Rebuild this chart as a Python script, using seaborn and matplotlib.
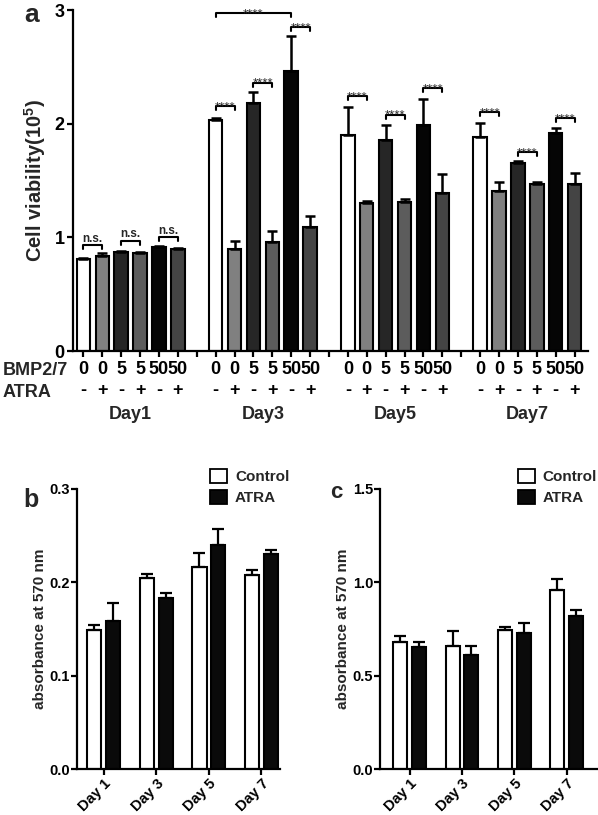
import numpy as np
import pandas as pd
import matplotlib
matplotlib.use("Agg")
import matplotlib.pyplot as plt
import matplotlib.transforms as mtransforms
from matplotlib.patches import Patch
import seaborn as sns

# --- panel a: cell viability (x10^5), 6 conditions per day ---
days_a = ["Day1", "Day3", "Day5", "Day7"]
bmp_doses = ["0", "0", "5", "5", "50", "50"]
atra_signs = ["-", "+", "-", "+", "-", "+"]
cond_names = ["0-", "0+", "5-", "5+", "50-", "50+"]
cond_colors = ["#ffffff", "#808080", "#262626", "#5c5c5c", "#050505", "#444444"]

viab_day1 = [0.81, 0.835, 0.87, 0.86, 0.915, 0.90]
viab_day3 = [2.03, 0.90, 2.18, 0.96, 2.46, 1.09]
viab_day5 = [1.90, 1.30, 1.86, 1.31, 1.99, 1.39]
viab_day7 = [1.88, 1.41, 1.65, 1.47, 1.92, 1.47]
sd_day1 = [0.01, 0.03, 0.01, 0.015, 0.01, 0.005]
sd_day3 = [0.02, 0.07, 0.10, 0.10, 0.31, 0.10]
sd_day5 = [0.25, 0.02, 0.13, 0.03, 0.23, 0.17]
sd_day7 = [0.13, 0.08, 0.02, 0.02, 0.04, 0.10]

# significance brackets: (day index, cond i, cond j, height, label)
sig_brackets = [
    (0, 0, 1, 0.93, "n.s."), (0, 2, 3, 0.97, "n.s."), (0, 4, 5, 1.00, "n.s."),
    (1, 0, 1, 2.155, "****"), (1, 2, 3, 2.36, "****"), (1, 4, 5, 2.85, "****"),
    (1, 0, 4, 2.97, "****"),
    (2, 0, 1, 2.24, "****"), (2, 2, 3, 2.08, "****"), (2, 4, 5, 2.31, "****"),
    (3, 0, 1, 2.10, "****"), (3, 2, 3, 1.75, "****"), (3, 4, 5, 2.05, "****"),
]

# --- panels b and c: absorbance at 570 nm ---
days_bc = ["Day 1", "Day 3", "Day 5", "Day 7"]
groups_bc = ["Control", "ATRA"]
ctrl_b = [0.149, 0.205, 0.217, 0.208]
ctrl_b_sd = [0.005, 0.0035, 0.0145, 0.005]
atra_b = [0.159, 0.1836, 0.240, 0.230]
atra_b_sd = [0.019, 0.0055, 0.017, 0.005]
ctrl_c = [0.682, 0.66, 0.745, 0.957]
ctrl_c_sd = [0.031, 0.081, 0.014, 0.059]
atra_c = [0.652, 0.613, 0.732, 0.822]
atra_c_sd = [0.030, 0.047, 0.05, 0.029]


def main():
    sns.set_style("ticks")
    plt.rcParams["font.family"] = ["Liberation Sans", "DejaVu Sans"]
    plt.rcParams["font.weight"] = "bold"
    plt.rcParams["axes.labelweight"] = "bold"
    plt.rcParams["mathtext.fontset"] = "custom"
    plt.rcParams["mathtext.rm"] = "Liberation Sans:bold"
    plt.rcParams["mathtext.default"] = "rm"
    plt.rcParams["axes.linewidth"] = 1.6
    plt.rcParams["xtick.major.width"] = 1.6
    plt.rcParams["ytick.major.width"] = 1.6
    plt.rcParams["xtick.major.size"] = 4
    plt.rcParams["ytick.major.size"] = 4
    plt.rcParams["xtick.color"] = "black"
    plt.rcParams["ytick.color"] = "black"
    plt.rcParams["axes.edgecolor"] = "black"

    fig = plt.figure(figsize=(5.98, 8.15), dpi=100)
    ax_a = fig.add_axes([0.122, 0.5693, 0.861, 0.4184])
    ax_b = fig.add_axes([0.1288, 0.0561, 0.3392, 0.3439])
    ax_c = fig.add_axes([0.6355, 0.0561, 0.3625, 0.3439])

    # --- panel a ---
    rows = []
    for d, (means, sds) in enumerate(zip([viab_day1, viab_day3, viab_day5, viab_day7],
                                         [sd_day1, sd_day3, sd_day5, sd_day7])):
        for k in range(6):
            rows.append({"pos": d * 7 + k, "cond": cond_names[k],
                         "value": means[k], "sd": sds[k]})
    df_a = pd.DataFrame(rows)

    sns.barplot(data=df_a, x="pos", y="value", hue="cond", hue_order=cond_names,
                palette=dict(zip(cond_names, cond_colors)), native_scale=True,
                dodge=False, width=0.71, edgecolor="black", linewidth=1.5,
                errorbar=None, legend=False, ax=ax_a)
    ax_a.errorbar(df_a["pos"], df_a["value"], yerr=[np.zeros(len(df_a)), df_a["sd"]],
                  fmt="none", ecolor="black", elinewidth=1.8, capsize=3.5, capthick=1.8)

    ax_a.set_ylim(0, 3)
    ax_a.set_xlim(-0.55, 26.7)
    ax_a.set_yticks([0, 1, 2, 3])
    ax_a.tick_params(axis="y", labelsize=13, pad=2)
    tick_pos = list(range(27))
    tick_lab = []
    for p in tick_pos:
        k = p % 7
        tick_lab.append(f"{bmp_doses[k]}\n{atra_signs[k]}" if k < 6 else "")
    ax_a.set_xticks(tick_pos)
    ax_a.set_xticklabels(tick_lab, fontsize=13, linespacing=1.3)
    ax_a.tick_params(axis="x", pad=3)
    ax_a.set_xlabel("")
    ax_a.set_ylabel("Cell viability(10$^{5}$)", fontsize=14.5, labelpad=5)
    sns.despine(ax=ax_a)

    trans = mtransforms.blended_transform_factory(ax_a.transData, ax_a.transAxes)
    for d, day in enumerate(days_a):
        ax_a.text(d * 7 + 2.5, -0.185, day, transform=trans, ha="center", va="center",
                  fontsize=13)
    fig.text(0.005, 0.546, "BMP2/7", ha="left", va="center", fontsize=13)
    fig.text(0.005, 0.518, "ATRA", ha="left", va="center", fontsize=13)

    for d, i, j, y, lab in sig_brackets:
        x1, x2 = d * 7 + i, d * 7 + j
        ax_a.plot([x1, x1, x2, x2], [y - 0.035, y, y, y - 0.035], color="black",
                  lw=1.5, clip_on=False)
        if lab == "n.s.":
            ax_a.annotate(lab, ((x1 + x2) / 2, y), xytext=(0, 2.5),
                          textcoords="offset points", ha="center", va="baseline",
                          fontsize=8.5, annotation_clip=False)
        else:
            ax_a.annotate(lab, ((x1 + x2) / 2, y), xytext=(0, -3),
                          textcoords="offset points", ha="center", va="baseline",
                          fontsize=9.5, fontweight="normal", annotation_clip=False)

    # --- panels b and c ---
    for ax, ctrl, ctrl_sd, atra, atra_sd, ylim, yticks, xlim in [
        (ax_b, ctrl_b, ctrl_b_sd, atra_b, atra_b_sd, 0.3, [0, 0.1, 0.2, 0.3], (-0.51, 3.35)),
        (ax_c, ctrl_c, ctrl_c_sd, atra_c, atra_c_sd, 1.5, [0, 0.5, 1.0, 1.5], (-0.57, 3.58)),
    ]:
        df = pd.DataFrame({
            "day": days_bc * 2,
            "group": ["Control"] * 4 + ["ATRA"] * 4,
            "value": ctrl + atra,
            "sd": ctrl_sd + atra_sd,
        })
        sns.barplot(data=df, x="day", y="value", hue="group", hue_order=groups_bc,
                    palette={"Control": "white", "ATRA": "#0a0a0a"}, width=0.72, gap=0.25,
                    edgecolor="black", linewidth=1.5, errorbar=None, legend=False, ax=ax)
        bars = sorted(ax.patches, key=lambda p: p.get_x())
        xs = [p.get_x() + p.get_width() / 2 for p in bars]
        # bars sorted by x alternate Control / ATRA per day
        means = [v for pair in zip(ctrl, atra) for v in pair]
        sds = [v for pair in zip(ctrl_sd, atra_sd) for v in pair]
        ax.errorbar(xs, means, yerr=[np.zeros(len(sds)), sds], fmt="none", ecolor="black",
                    elinewidth=1.6, capsize=4, capthick=1.6)
        ax.set_ylim(0, ylim)
        ax.set_xlim(*xlim)
        ax.set_yticks(yticks)
        ax.set_yticklabels([f"{t:.1f}" for t in yticks], fontsize=10.5)
        ax.tick_params(axis="y", pad=1)
        ax.set_xticks(range(4))
        ax.set_xticklabels(days_bc, rotation=45, ha="right", rotation_mode="anchor",
                           fontsize=10.5)
        ax.tick_params(axis="x", pad=1.5)
        ax.set_xlabel("")
        ax.set_ylabel("absorbance at 570 nm", fontsize=11, labelpad=1.5)
        sns.despine(ax=ax)

    handles = [Patch(facecolor="white", edgecolor="black", linewidth=1.3),
               Patch(facecolor="#0a0a0a", edgecolor="black", linewidth=1.3)]
    for x0 in [0.352, 0.866]:
        fig.legend(handles, groups_bc, loc="upper left", bbox_to_anchor=(x0, 0.425),
                   frameon=False, handlelength=1.1, handleheight=1.1, handletextpad=0.5,
                   labelspacing=0.35, borderpad=0, borderaxespad=0,
                   prop={"size": 11, "weight": "bold"})

    fig.text(0.053, 0.9734, "a", ha="center", va="baseline", fontsize=19)
    fig.text(0.051, 0.3783, "b", ha="center", va="baseline", fontsize=18)
    fig.text(0.563, 0.389, "c", ha="center", va="baseline", fontsize=16)

    fig.savefig("out.png", dpi=100)


if __name__ == "__main__":
    main()
